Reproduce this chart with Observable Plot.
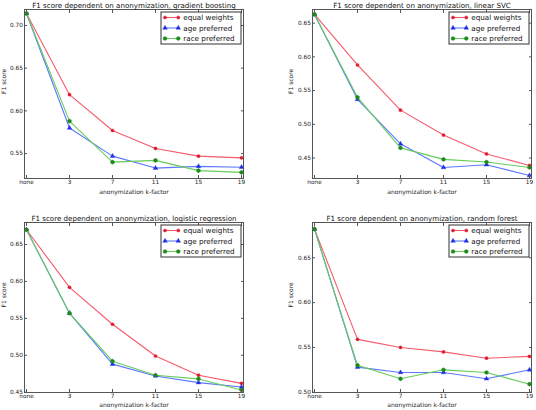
<!DOCTYPE html>
<html><head><meta charset="utf-8">
<script src="https://cdn.jsdelivr.net/npm/d3@7"></script>
<script src="https://cdn.jsdelivr.net/npm/@observablehq/plot@0.6"></script>
<style>
body{margin:0;background:#fff;}
#wrap{position:relative;width:536px;height:410px;overflow:hidden;font-family:"DejaVu Sans",sans-serif;}
.panel{position:absolute;width:268px;height:205px;}
</style></head><body><div id="wrap"></div>
<script>
// ---- data ----
const kFactors = ["none", "3", "7", "11", "15", "19"];
const seriesNames = ["equal weights", "age preferred", "race preferred"];
const titles = [
  "F1 score dependent on anonymization, gradient boosting",
  "F1 score dependent on anonymization, linear SVC",
  "F1 score dependent on anonymization, logistic regression",
  "F1 score dependent on anonymization, random forest"
];
const yLabel = "F1 score";
const xLabel = "anonymization k-factor";

const gbEqual = [0.714, 0.619, 0.577, 0.556, 0.547, 0.545];
const gbAge   = [0.714, 0.580, 0.547, 0.533, 0.535, 0.534];
const gbRace  = [0.714, 0.588, 0.540, 0.542, 0.530, 0.528];

const svcEqual = [0.663, 0.588, 0.521, 0.484, 0.456, 0.439];
const svcAge   = [0.663, 0.537, 0.471, 0.436, 0.440, 0.424];
const svcRace  = [0.663, 0.540, 0.465, 0.448, 0.444, 0.436];

const lrEqual = [0.670, 0.592, 0.542, 0.499, 0.473, 0.462];
const lrAge   = [0.670, 0.557, 0.488, 0.472, 0.463, 0.457];
const lrRace  = [0.670, 0.557, 0.492, 0.473, 0.468, 0.453];

const rfEqual = [0.682, 0.559, 0.550, 0.545, 0.538, 0.540];
const rfAge   = [0.682, 0.528, 0.522, 0.522, 0.515, 0.525];
const rfRace  = [0.682, 0.530, 0.515, 0.525, 0.522, 0.509];

const yTicksGB  = [0.55, 0.60, 0.65, 0.70];
const yTicksSVC = [0.45, 0.50, 0.55, 0.60, 0.65];
const yTicksLR  = [0.45, 0.50, 0.55, 0.60, 0.65];
const yTicksRF  = [0.50, 0.55, 0.60, 0.65];

const yDomainGB  = [0.5208, 0.7187];
const yDomainSVC = [0.4196, 0.6703];
const yDomainLR  = [0.4496, 0.6798];
const yDomainRF  = [0.4997, 0.6894];

// ---- styles ----
const lineColors = ["#f55a6c", "#5b78ff", "#66cc5a"];
const markColors = ["#e01a2a", "#1f2fe8", "#1c8a1c"];
const hexagon = {
  draw(ctx, size) {
    const r = Math.sqrt(size / (1.5 * Math.sqrt(3)));
    for (let k = 0; k < 6; k++) {
      const a = Math.PI / 6 + k * Math.PI / 3;
      const x = r * Math.cos(a), y = r * Math.sin(a);
      if (k === 0) ctx.moveTo(x, y); else ctx.lineTo(x, y);
    }
    ctx.closePath();
  }
};
const symbols = ["circle", "triangle", hexagon];
const d3symbols = [d3.symbolCircle, d3.symbolTriangle, hexagon];
const symR = [1.6, 1.7, 1.9];
const font = "DejaVu Sans";

const panels = [
  {left: 0,   top: 0,   mL: 24, mR: 25, mT: 9,  mB: 27, xlab: 14, ylabDx: -22.5, title: titles[0], domain: yDomainGB,  ticks: yTicksGB,  series: [gbEqual, gbAge, gbRace]},
  {left: 268, top: 0,   mL: 44, mR: 5,  mT: 9,  mB: 27, xlab: 14, ylabDx: -23.5, title: titles[1], domain: yDomainSVC, ticks: yTicksSVC, series: [svcEqual, svcAge, svcRace]},
  {left: 0,   top: 205, mL: 24, mR: 25, mT: 17, mB: 18, xlab: 13, ylabDx: -22.5, title: titles[2], domain: yDomainLR,  ticks: yTicksLR,  series: [lrEqual, lrAge, lrRace]},
  {left: 268, top: 205, mL: 44, mR: 5,  mT: 17, mB: 18, xlab: 13, ylabDx: -23.5, title: titles[3], domain: yDomainRF,  ticks: yTicksRF,  series: [rfEqual, rfAge, rfRace]}
];

const wrap = document.getElementById("wrap");

for (const p of panels) {
  const W = 268, H = 205;
  const seriesMarks = [];
  p.series.forEach((vals, si) => {
    const rows = kFactors.map((k, i) => ({k, v: vals[i]}));
    seriesMarks.push(Plot.line(rows, {x: "k", y: "v", stroke: lineColors[si], strokeWidth: 1.1}));
    seriesMarks.push(Plot.dot(rows, {x: "k", y: "v", symbol: symbols[si], r: symR[si], fill: markColors[si], stroke: markColors[si], strokeWidth: 0.4}));
  });
  const svg = Plot.plot({
    width: W, height: H,
    marginLeft: p.mL, marginRight: p.mR, marginTop: p.mT, marginBottom: p.mB,
    style: {fontFamily: font, fontSize: "5.8px", background: "transparent", color: "#222"},
    x: {type: "point", domain: kFactors, padding: 0},
    y: {domain: p.domain},
    marks: [
      ...seriesMarks,
      Plot.frame({stroke: "#555", strokeWidth: 1}),
      Plot.axisY(p.ticks, {anchor: "left", tickFormat: d3.format(".2f"), tickSize: -3, tickPadding: 4.6, label: null, stroke: "#555"}),
      Plot.axisY(p.ticks, {anchor: "right", tickFormat: () => "", tickSize: -3, label: null, stroke: "#555"}),
      Plot.axisX(kFactors, {anchor: "bottom", tickSize: -3, tickPadding: 4.8, label: null, stroke: "#555"}),
      Plot.axisX(kFactors, {anchor: "top", tickFormat: () => "", tickSize: -3, label: null, stroke: "#555"}),
      Plot.text([p.title], {frameAnchor: "top", dy: -4, lineAnchor: "middle", fontSize: 7.1, fill: "#111"}),
      Plot.text([yLabel], {frameAnchor: "left", rotate: -90, dx: p.ylabDx, lineAnchor: "top", fontSize: 6, fill: "#222"}),
      Plot.text([xLabel], {frameAnchor: "bottom", dy: p.xlab, lineAnchor: "middle", fontSize: 6, fill: "#222"})
    ]
  });
  // legend (upper right, inside the frame)
  const fr = W - p.mR, ft = p.mT;
  const g = d3.select(svg).append("g")
    .attr("transform", `translate(${fr - 82},${ft + 3})`)
    .attr("font-family", font).attr("font-size", 7.2).attr("text-anchor", "start");
  g.append("rect").attr("width", 80).attr("height", 32)
    .attr("fill", "#fff").attr("stroke", "#333").attr("stroke-width", 1);
  seriesNames.forEach((name, i) => {
    const y = 5.5 + i * 10.5;
    g.append("line").attr("x1", 4).attr("x2", 17.3).attr("y1", y).attr("y2", y)
      .attr("stroke", lineColors[i]).attr("stroke-width", 1.1);
    for (const x of [4, 17.3]) {
      g.append("path").attr("d", d3.symbol(d3symbols[i], Math.PI * symR[i] * symR[i])())
        .attr("transform", `translate(${x},${y})`)
        .attr("fill", markColors[i]).attr("stroke", markColors[i]).attr("stroke-width", 0.4);
    }
    g.append("text").attr("x", 22.3).attr("y", y).attr("dy", "0.35em")
      .attr("text-anchor", "start").attr("fill", "#111").text(name);
  });
  const div = document.createElement("div");
  div.className = "panel";
  div.style.left = p.left + "px";
  div.style.top = p.top + "px";
  div.appendChild(svg);
  wrap.appendChild(div);
}
</script>
</body></html>
